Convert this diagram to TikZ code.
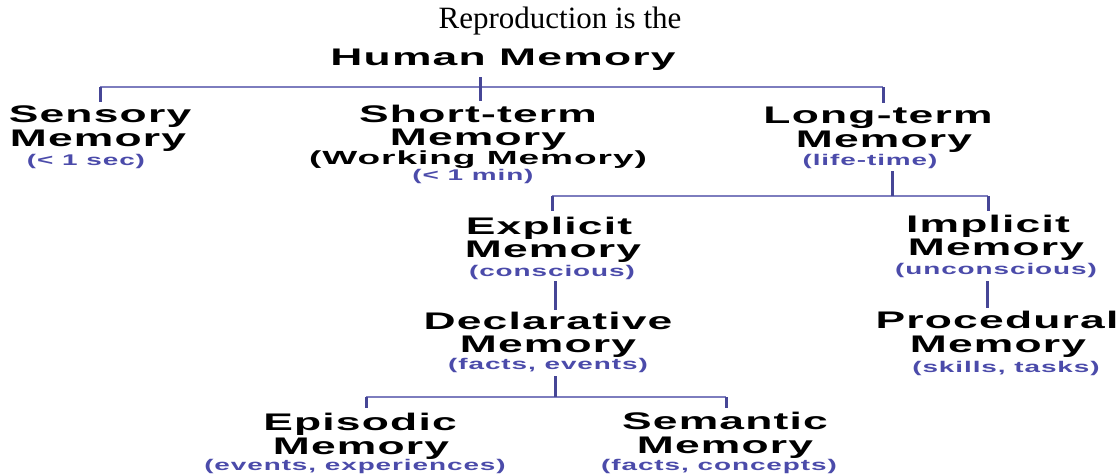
\documentclass[tikz,border=0pt]{standalone}
\usepackage{fontspec}
\setmainfont{Liberation Serif}
\newfontfamily\hfont{Liberation Sans}[FakeStretch=1.85,LetterSpace=5]
\newfontfamily\wfont{Liberation Sans}[FakeStretch=1.95,LetterSpace=5]
\newfontfamily\sfont{Liberation Sans}[FakeStretch=1.8,LetterSpace=6]
\definecolor{barcol}{RGB}{125,125,190}
\definecolor{tickcol}{RGB}{70,70,150}
\definecolor{subcol}{RGB}{75,75,170}
\tikzset{
  ttl/.style={anchor=base, inner sep=0pt, font=\hfont\bfseries\fontsize{24}{24}\selectfont},
  wrk/.style={anchor=base, inner sep=0pt, font=\wfont\bfseries\fontsize{19}{19}\selectfont},
  subt/.style={anchor=base, inner sep=0pt, text=subcol, font=\sfont\bfseries\fontsize{15.5}{15.5}\selectfont},
  bar/.style={draw=barcol, line width=2.4pt},
  tick/.style={draw=tickcol, line width=3pt, shorten >=3pt},
}
\begin{document}
\begin{tikzpicture}[x=1pt,y=-1pt]
\useasboundingbox (0,0) rectangle (1119,475);

% title
\node[anchor=base, inner sep=0pt, font=\fontsize{31}{31}\selectfont] (repro) at (560,28) {Reproduction is the};
\node[ttl] (hm) at (503,65) {Human Memory};

% level 1
\node[ttl] (sens1) at (100,122) {Sensory};
\node[ttl] (sens2) at (98,146) {Memory};
\node[subt] (sens3) at (86,165) {(< 1 sec)};

\node[ttl] (st1) at (478,122) {Short-term};
\node[ttl] (st2) at (478,145) {Memory};
\node[wrk] (st3) at (478,164) {(Working Memory)};
\node[subt] (st4) at (473,180) {(< 1 min)};

\node[ttl] (lt1) at (878,123) {Long-term};
\node[ttl] (lt2) at (884,147) {Memory};
\node[subt] (lt3) at (870,165) {(life-time)};

% level 2
\node[ttl] (ex1) at (549,234) {Explicit};
\node[ttl] (ex2) at (553,257) {Memory};
\node[subt] (ex3) at (552,276) {(conscious)};

\node[ttl] (im1) at (988,232) {Implicit};
\node[ttl] (im2) at (996,255) {Memory};
\node[subt] (im3) at (996,274) {(unconscious)};

% level 3
\node[ttl] (dec1) at (548,329) {Declarative};
\node[ttl] (dec2) at (548,352) {Memory};
\node[subt] (dec3) at (548,369) {(facts, events)};

\node[ttl] (pr1) at (997,328) {Procedural};
\node[ttl] (pr2) at (998,352) {Memory};
\node[subt] (pr3) at (1006,372) {(skills, tasks)};

% level 4
\node[ttl] (ep1) at (360,430) {Episodic};
\node[ttl] (ep2) at (361,454) {Memory};
\node[subt] (ep3) at (355,470) {(events, experiences)};

\node[ttl] (se1) at (725,429) {Semantic};
\node[ttl] (se2) at (725,453) {Memory};
\node[subt] (se3) at (719,470) {(facts, concepts)};

% junction coordinates
\coordinate (b1l) at (100,87);
\coordinate (b1r) at (883,87);
\coordinate (b1m) at (480,77);
\coordinate (b2l) at (552,196);
\coordinate (b2r) at (988,196);
\coordinate (b2m) at (892,196);
\coordinate (v1) at (555,0);
\coordinate (v2) at (987,0);
\coordinate (b3l) at (366,397);
\coordinate (b3r) at (726,397);
\coordinate (b3m) at (555,397);

% bars
\draw[bar] (b1l) -- (b1r);
\draw[bar] (b2l) -- (b2r);
\draw[bar] (b3l) -- (b3r);

% ticks
\draw[tick] (b1l) -- (b1l |- sens1.north);
\draw[tick] (b1m) -- (b1m |- st1.north);
\draw[tick] (b1r) -- (b1r |- lt1.north);
\draw[tick, shorten >=0pt, shorten <=3pt] (lt3.south -| b2m) -- (b2m);
\draw[tick, shorten >=5pt] (b2l) -- (b2l |- ex1.north);
\draw[tick] (b2r) -- (b2r |- im1.north);
\draw[tick, shorten <=2pt, shorten >=1pt] (ex3.south -| v1) -- (dec1.north -| v1);
\draw[tick, shorten <=4pt, shorten >=2pt] (im3.south -| v2) -- (pr1.north -| v2);
\draw[tick, shorten <=4pt, shorten >=0pt] (dec3.south -| b3m) -- (b3m);
\draw[tick, shorten >=4pt] (b3l) -- (b3l |- ep1.north);
\draw[tick] (b3r) -- (b3r |- se1.north);
\end{tikzpicture}
\end{document}
